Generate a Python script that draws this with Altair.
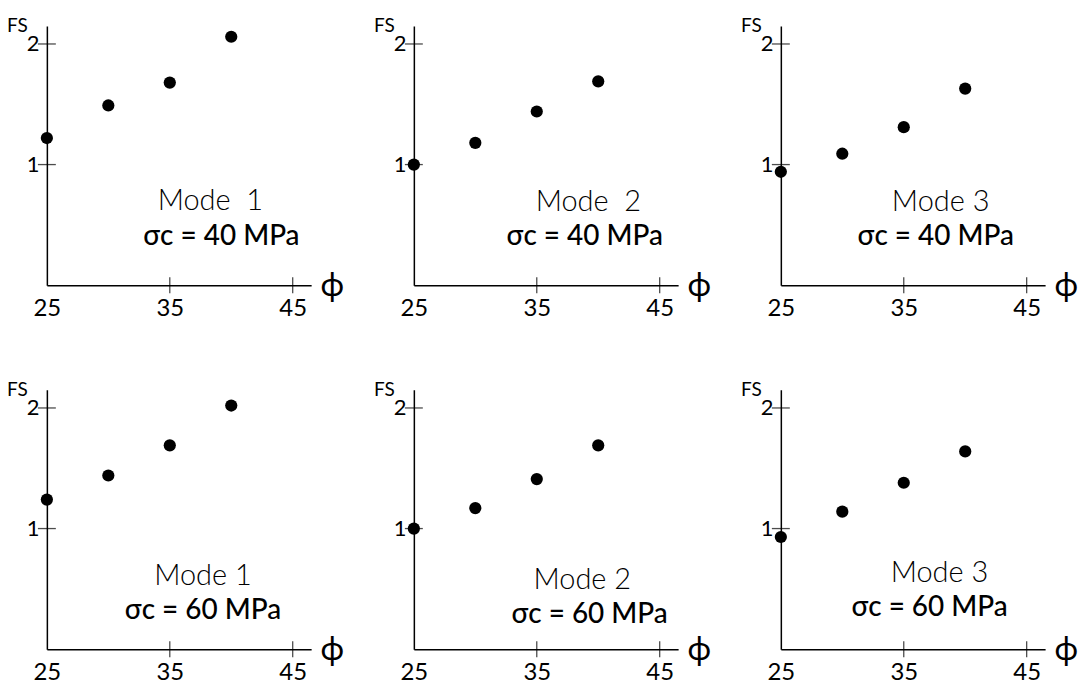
import altair as alt
import pandas as pd

FONT = "Lato"

PHI = [25, 30, 35, 40]
FS_VALUES = [
    [1.22, 1.49, 1.68, 2.06],
    [1.00, 1.18, 1.44, 1.69],
    [0.94, 1.09, 1.31, 1.63],
    [1.24, 1.44, 1.69, 2.02],
    [1.00, 1.17, 1.41, 1.69],
    [0.93, 1.14, 1.38, 1.64],
]
MODE_LABELS = ["Mode\u00a0\u00a01", "Mode\u00a0\u00a02", "Mode\u00a03",
               "Mode\u00a01", "Mode\u00a02", "Mode\u00a03"]
SIGMA_LABELS = ["σc = 40 MPa", "σc = 40 MPa", "σc = 40 MPa",
                "σc = 60 MPa", "σc = 60 MPa", "σc = 60 MPa"]
X_TICKS = [25, 35, 45]
Y_TICKS = [1, 2]

# annotation anchors (data units) for the two text lines of each panel
MODE_X = [38.3, 39.2, 38.0, 37.7, 38.7, 37.9]
MODE_Y = [0.70, 0.69, 0.69, 0.61, 0.57, 0.63]
SIG_X = [39.2, 38.9, 37.6, 37.7, 39.3, 37.1]
SIG_Y = [0.40, 0.40, 0.40, 0.32, 0.28, 0.34]

W, H = 265, 260


def panel(i):
    xs = alt.Scale(domain=[25, 46.5], nice=False, zero=False)
    ys = alt.Scale(domain=[0, 2.15], nice=False, zero=False)
    xaxis = alt.Axis(values=X_TICKS, ticks=False, grid=False, domainColor="black",
                     domainWidth=1.5, labelFontSize=24, labelColor="black", labelFont=FONT,
                     labelFontWeight="normal", labelPadding=11, labelFlush=False,
                     labelOverlap=False, format="d",
                     title="ϕ", titleFont=FONT, titleFontSize=32, titleFontWeight="normal",
                     titleColor="black", titleX=274, titleY=0, titleAlign="left",
                     titleBaseline="middle", titleAngle=0)
    yaxis = alt.Axis(values=Y_TICKS, ticks=False, grid=False, domainColor="black",
                     domainWidth=1.5, labelFontSize=22, labelColor="black", labelFont=FONT,
                     labelFontWeight="normal", labelPadding=8, labelFlush=False,
                     labelOverlap=False, format="d",
                     title="FS", titleFont=FONT, titleFontSize=19, titleFontWeight="normal",
                     titleColor="black", titleX=-30, titleY=0, titleAlign="center",
                     titleBaseline="middle", titleAngle=0)
    X = alt.X("phi:Q", scale=xs, axis=xaxis)
    Y = alt.Y("fs:Q", scale=ys, axis=yaxis)

    pts = pd.DataFrame({"phi": PHI, "fs": FS_VALUES[i]})
    points = alt.Chart(pts).mark_circle(size=150, color="black", opacity=1).encode(x=X, y=Y)

    xt = alt.Chart(pd.DataFrame({"phi": X_TICKS[1:], "fs": [0, 0]})).mark_tick(
        orient="vertical", size=16, thickness=1.3, color="black").encode(x=X, y=Y)
    yt = alt.Chart(pd.DataFrame({"phi": [25, 25], "fs": Y_TICKS})).mark_tick(
        orient="horizontal", size=18, thickness=1.3, color="black").encode(x=X, y=Y)

    t1 = alt.Chart(pd.DataFrame({"phi": [MODE_X[i]], "fs": [MODE_Y[i]], "t": [MODE_LABELS[i]]})).mark_text(
        font=FONT, fontSize=29, fontWeight=300, color="black", align="center", baseline="middle"
    ).encode(x=X, y=Y, text="t:N")
    t2 = alt.Chart(pd.DataFrame({"phi": [SIG_X[i]], "fs": [SIG_Y[i]], "t": [SIGMA_LABELS[i]]})).mark_text(
        font=FONT, fontSize=28, fontWeight=500, color="black", align="center", baseline="middle"
    ).encode(x=X, y=Y, text="t:N")

    return alt.layer(points, xt, yt, t1, t2).properties(width=W, height=H)


chart = alt.concat(*[panel(i) for i in range(6)], columns=3,
                   spacing={"row": 105, "column": 103}, bounds="flush").properties(
    padding={"left": 6, "top": 16, "right": 5, "bottom": 5}
).configure_view(strokeOpacity=0)

chart.save("out.html", embed_options={"renderer": "svg", "actions": False})
